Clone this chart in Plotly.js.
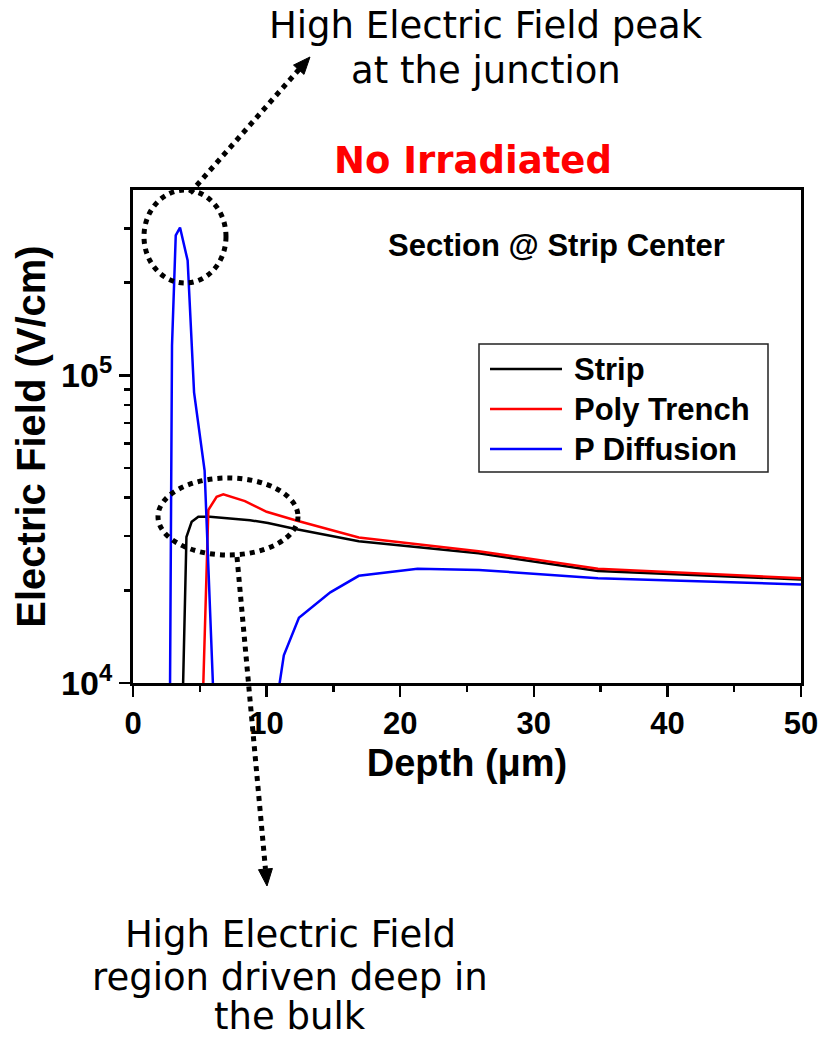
<!DOCTYPE html>
<html>
<head>
<meta charset="utf-8">
<script src="https://cdn.plot.ly/plotly-3.0.1.min.js"></script>
<style>html,body{margin:0;padding:0;background:#fff;}#chart{width:821px;height:1038px;}</style>
</head>
<body>
<div id="chart"></div>
<script>
// ---- data ----
const depthStrip = [3.74, 4.0, 4.39, 4.89, 5.76, 8.76, 10.1, 12.25, 16.9, 25.87, 34.8, 50];
const fieldStrip = [9.5e3, 2.98e4, 3.34e4, 3.47e4, 3.47e4, 3.38e4, 3.31e4, 3.16e4, 2.89e4, 2.64e4, 2.31e4, 2.17e4];

const depthPoly = [5.25, 5.64, 6.26, 6.76, 8.38, 10.0, 12.15, 16.9, 25.87, 34.8, 50];
const fieldPoly = [9.5e3, 3.65e4, 4.03e4, 4.1e4, 3.9e4, 3.6e4, 3.38e4, 2.97e4, 2.68e4, 2.35e4, 2.19e4];

const depthPdiff = [2.77, 2.92, 3.2, 3.52, 4.09, 4.57, 5.36, 6.0, 8.0, 10.9, 11.29, 12.42, 14.77, 16.9, 21.3, 25.9, 34.8, 50];
const fieldPdiff = [9.5e3, 1.25e5, 2.85e5, 3.02e5, 2.36e5, 8.8e4, 4.9e4, 9.5e3, null, 9.5e3, 1.23e4, 1.63e4, 1.97e4, 2.23e4, 2.35e4, 2.33e4, 2.19e4, 2.09e4];

const seriesNames = ['Strip', 'Poly Trench', 'P Diffusion'];
const seriesColors = ['#000000', '#ff0000', '#0000ff'];

const xTickVals = [0, 10, 20, 30, 40, 50];
const xMinorVals = [5, 15, 25, 35, 45];
const yTickVals = [1e4, 1e5];
const yTickText = ['10<sup>4</sup>', '10<sup>5</sup>'];
const yMinorVals = [2e4, 3e4, 4e4, 5e4, 6e4, 7e4, 8e4, 9e4, 2e5, 3e5];

const topNoteLines = ['High Electric Field peak', 'at the junction'];
const bottomNoteLines = ['High Electric Field', 'region driven deep in', 'the bulk'];

// ---- layout helpers (pixel -> paper) ----
const L = 133, R = 801, T = 190, B = 683, W = 821, H = 1038;
const px = x => (x - L) / (R - L);
const py = y => (B - y) / (B - T);

const traces = [
  {x: depthStrip, y: fieldStrip, name: seriesNames[0]},
  {x: depthPoly, y: fieldPoly, name: seriesNames[1]},
  {x: depthPdiff, y: fieldPdiff, name: seriesNames[2]}
].map((t, i) => Object.assign(t, {
  type: 'scatter', mode: 'lines', connectgaps: false, showlegend: false,
  line: {color: seriesColors[i], width: 2.5}, cliponaxis: true
}));

const dotLine = {color: '#000', width: 5, dash: 'dot'};
function arrowHead(x1, y1, x2, y2, len, half) {
  const dx = x2 - x1, dy = y2 - y1, d = Math.hypot(dx, dy);
  const ux = dx / d, uy = dy / d;
  const bx = x2 - ux * len, by = y2 - uy * len;
  const p1 = [bx + uy * half, by - ux * half], p2 = [bx - uy * half, by + ux * half];
  const P = (a, b) => px(a).toFixed(5) + ',' + py(b).toFixed(5);
  return {
    shape: {type: 'path', xref: 'paper', yref: 'paper', path: 'M' + P(x2, y2) + ' L' + P(p1[0], p1[1]) + ' L' + P(p2[0], p2[1]) + ' Z',
      fillcolor: '#000', line: {color: '#000', width: 1}, layer: 'above'},
    base: [bx, by]
  };
}
const a1 = arrowHead(190, 193, 310, 57, 17, 7);
const a2 = arrowHead(237, 557, 267, 886, 17, 7);

const shapes = [
  {type: 'circle', xref: 'paper', yref: 'paper', x0: px(144), x1: px(226), y0: py(283), y1: py(190), line: dotLine, layer: 'above'},
  {type: 'circle', xref: 'paper', yref: 'paper', x0: px(158), x1: px(298), y0: py(555), y1: py(478), line: dotLine, layer: 'above'},
  {type: 'line', xref: 'paper', yref: 'paper', x0: px(190), y0: py(193), x1: px(a1.base[0]), y1: py(a1.base[1]), line: dotLine, layer: 'above'},
  a1.shape,
  {type: 'line', xref: 'paper', yref: 'paper', x0: px(237), y0: py(557), x1: px(a2.base[0]), y1: py(a2.base[1]), line: dotLine, layer: 'above'},
  a2.shape,
  // legend box
  {type: 'rect', xref: 'paper', yref: 'paper', x0: px(479), x1: px(768), y0: py(472), y1: py(344), line: {color: '#222', width: 1.5}, fillcolor: 'rgba(255,255,255,0)', layer: 'above'}
];

const noteFont = {family: 'DejaVu Sans', size: 37, color: '#000'};
const annotations = [];
const topLineY = [26, 71];
topNoteLines.forEach((t, i) => annotations.push({xref: 'paper', yref: 'paper', x: px(486), y: py(topLineY[i]), text: t, showarrow: false,
  font: noteFont, xanchor: 'center', yanchor: 'middle'}));
const bottomLineY = [934, 977, 1016];
bottomNoteLines.forEach((t, i) => annotations.push({xref: 'paper', yref: 'paper', x: px(290), y: py(bottomLineY[i]), text: t, showarrow: false,
  font: noteFont, xanchor: 'center', yanchor: 'middle'}));
annotations.push({xref: 'paper', yref: 'paper', x: px(556), y: py(245), text: '<b>Section @ Strip Center</b>', showarrow: false,
  font: {family: 'Liberation Sans', size: 31, color: '#000'}, xanchor: 'center', yanchor: 'middle'});

const legendRowsY = [369, 409, 449];
seriesNames.forEach((n, i) => {
  shapes.push({type: 'line', xref: 'paper', yref: 'paper', x0: px(490), x1: px(562), y0: py(legendRowsY[i]), y1: py(legendRowsY[i]),
    line: {color: seriesColors[i], width: 2.5}, layer: 'above'});
  annotations.push({xref: 'paper', yref: 'paper', x: px(572), y: py(legendRowsY[i]), text: '<b>' + n + '</b>', showarrow: false,
    font: {family: 'Liberation Sans', size: 31, color: '#000'}, xanchor: 'left', yanchor: 'middle'});
});

const tickFont = {family: 'Liberation Sans', size: 31, color: '#000', weight: 'bold'};
const layout = {
  width: W, height: H,
  margin: {l: L, r: W - R, t: T, b: H - B, pad: 0},
  paper_bgcolor: '#fff', plot_bgcolor: '#fff',
  showlegend: false,
  title: {text: '<b>No Irradiated</b>', font: {family: 'DejaVu Sans', size: 37, color: '#ff0000'},
    xref: 'paper', x: px(473), xanchor: 'center', yref: 'container', y: 1 - 160 / H, yanchor: 'middle'},
  xaxis: {
    range: [0, 50], tickmode: 'array', tickvals: xTickVals, ticks: 'outside', ticklen: 11, tickwidth: 2.5, tickcolor: '#000',
    minor: {tickmode: 'array', tickvals: xMinorVals, ticks: 'outside', ticklen: 6, tickwidth: 2.5, tickcolor: '#000'},
    showline: true, linewidth: 3, linecolor: '#000', mirror: true, showgrid: false, zeroline: false,
    tickfont: tickFont,
    title: {text: '<b>Depth (μm)</b>', font: {family: 'Liberation Sans', size: 38, color: '#000'}, standoff: 10}
  },
  xaxis2: {
    overlaying: 'x', side: 'top', anchor: 'y', range: [0, 50], tickmode: 'array', tickvals: xTickVals, ticks: 'inside', ticklen: 11, tickwidth: 2.5, tickcolor: '#000',
    minor: {tickmode: 'array', tickvals: xMinorVals, ticks: 'inside', ticklen: 6, tickwidth: 2.5, tickcolor: '#000'},
    showticklabels: false, showline: false, showgrid: false, zeroline: false
  },
  yaxis: {
    type: 'log', range: [4, Math.log10(4e5)], tickmode: 'array', tickvals: yTickVals, ticktext: yTickText,
    ticks: 'outside', ticklen: 11, tickwidth: 2.5, tickcolor: '#000',
    minor: {tickmode: 'array', tickvals: yMinorVals, ticks: 'outside', ticklen: 6, tickwidth: 2.5, tickcolor: '#000'},
    showline: true, linewidth: 3, linecolor: '#000', mirror: true, showgrid: false, zeroline: false,
    tickfont: {family: 'Liberation Sans', size: 34, color: '#000', weight: 'bold'},
    title: {text: '<b>Electric Field (V/cm)</b>', font: {family: 'Liberation Sans', size: 40, color: '#000'}, standoff: 4}
  },
  yaxis2: {
    type: 'log', overlaying: 'y', side: 'right', anchor: 'x', range: [4, Math.log10(4e5)], tickmode: 'array', tickvals: yTickVals,
    ticks: 'inside', ticklen: 11, tickwidth: 2.5, tickcolor: '#000',
    minor: {tickmode: 'array', tickvals: yMinorVals, ticks: 'inside', ticklen: 6, tickwidth: 2.5, tickcolor: '#000'},
    showticklabels: false, showline: false, showgrid: false, zeroline: false
  },
  shapes: shapes,
  annotations: annotations
};

Plotly.newPlot('chart', traces, layout, {displayModeBar: false, staticPlot: true});
</script>
</body>
</html>
